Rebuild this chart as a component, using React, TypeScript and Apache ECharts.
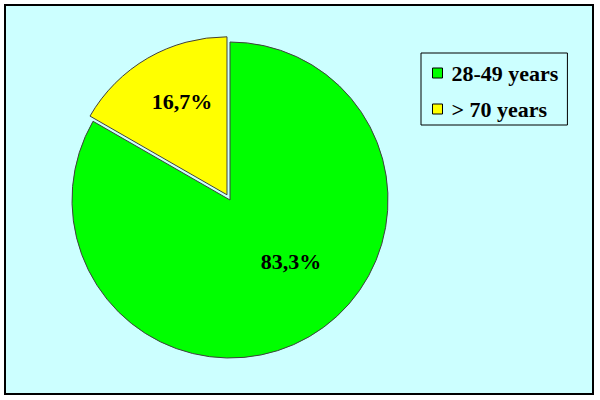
import React, { useEffect, useRef } from "react";
import * as echarts from "echarts";

const categories = ["28-49 years", "> 70 years"];
const values = [83.3, 16.7];
const colors = ["#00FF00", "#FFFF00"];

export default function App() {
  const ref = useRef<HTMLDivElement>(null);
  useEffect(() => {
    if (!ref.current) return;
    const chart = echarts.init(ref.current, null, { renderer: "svg" });
    const font = "Liberation Serif";
    chart.setOption({
      animation: false,
      backgroundColor: "#ffffff",
      graphic: [
        {
          type: "rect",
          z: -10,
          silent: true,
          shape: { x: 5, y: 5, width: 588, height: 389 },
          style: { fill: "#CCFFFF", stroke: "#000000", lineWidth: 2 },
        },
      ],
      legend: {
        orient: "vertical",
        left: 421,
        top: 53,
        padding: [9, 9, 5, 11],
        itemGap: 14,
        itemWidth: 10,
        itemHeight: 10,
        icon: "rect",
        borderColor: "#000000",
        borderWidth: 1,
        backgroundColor: "#CCFFFF",
        textStyle: {
          fontFamily: font,
          fontWeight: "bold",
          fontSize: 22,
          color: "#000",
          padding: [0, 0, 0, 4],
        },
        data: categories.map((c, i) => ({
          name: c,
          itemStyle: { color: colors[i], borderColor: "#000", borderWidth: 1 },
        })),
      },
      series: [
        {
          type: "pie",
          center: [230, 200],
          radius: 158,
          startAngle: 90,
          clockwise: true,
          selectedMode: "single",
          selectedOffset: 6,
          itemStyle: { borderColor: "#404040", borderWidth: 1 },
          label: {
            position: "inside",
            fontFamily: font,
            fontWeight: "bold",
            fontSize: 22,
            color: "#000",
            formatter: (p: any) => p.value.toFixed(1).replace(".", ",") + "%",
          },
          labelLayout: (p: any) =>
            p.dataIndex === 1 ? { dx: -4, dy: -22 } : { dx: 20, dy: -9 },
          emphasis: { disabled: true },
          data: categories.map((c, i) => ({
            name: c,
            value: values[i],
            selected: i === 1,
            itemStyle: { color: colors[i] },
          })),
        },
      ],
    });
    return () => chart.dispose();
  }, []);
  return (
    <div
      ref={ref}
      style={{ position: "fixed", left: 0, top: 0, width: 600, height: 400 }}
    />
  );
}
